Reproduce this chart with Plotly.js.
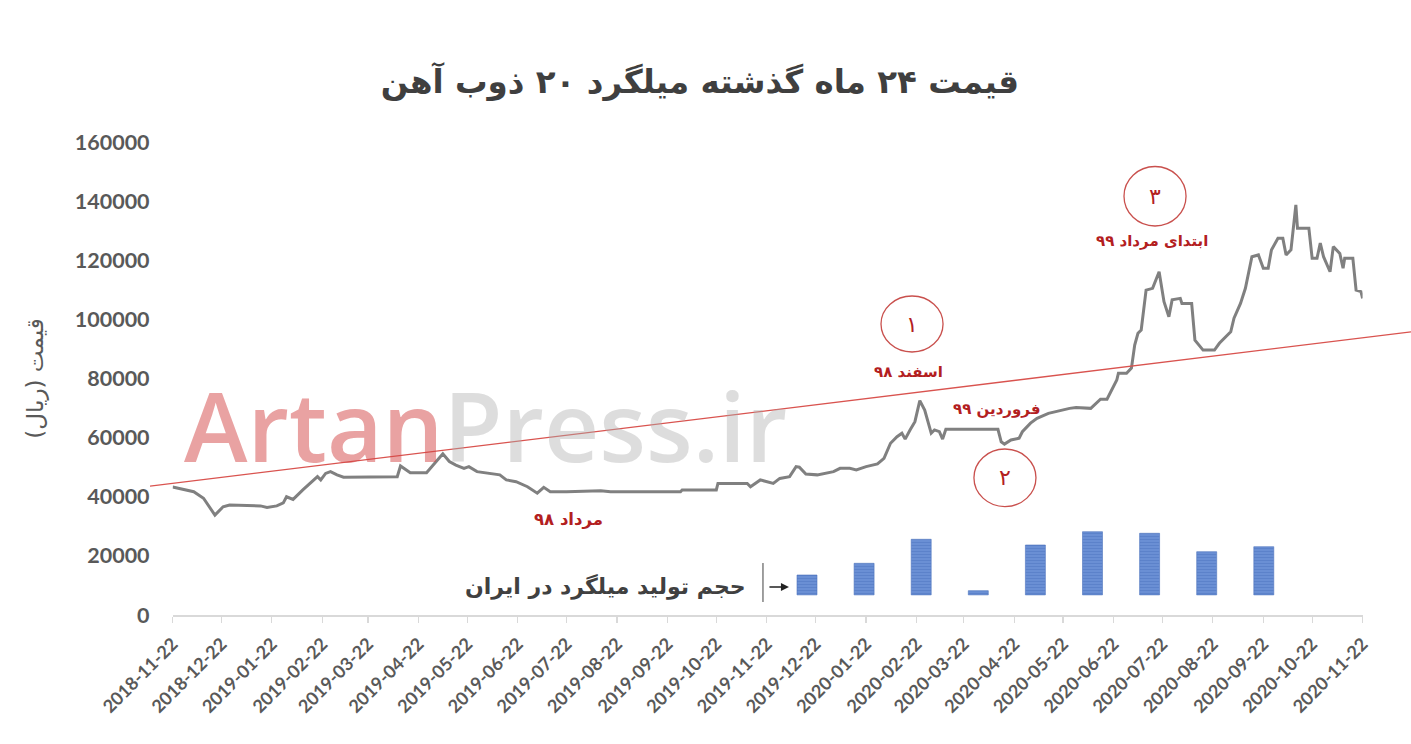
<!DOCTYPE html>
<html>
<head>
<meta charset="utf-8">
<script src="https://cdn.plot.ly/plotly-3.0.1.min.js"></script>
<style>html,body{margin:0;padding:0;background:#fff;}#chart{width:1411px;height:744px;}</style>
</head>
<body>
<div id="chart"></div>
<script>
// ---- Data ----
var priceDates = [
'2018-11-22','2018-12-05','2018-12-11','2018-12-18','2018-12-23','2018-12-27','2019-01-15','2019-01-19','2019-01-25','2019-01-29',
'2019-01-31','2019-02-04','2019-02-10','2019-02-16','2019-02-19','2019-02-21','2019-02-24','2019-02-27','2019-03-03','2019-03-07',
'2019-04-09','2019-04-11','2019-04-15','2019-04-17','2019-04-27','2019-05-01','2019-05-07','2019-05-11','2019-05-15','2019-05-20',
'2019-05-23','2019-05-28','2019-06-11','2019-06-15','2019-06-21','2019-06-28','2019-07-04','2019-07-08','2019-07-12','2019-07-22',
'2019-08-12','2019-08-18','2019-09-30','2019-10-01','2019-10-22','2019-10-23','2019-11-10','2019-11-12','2019-11-18','2019-11-26',
'2019-11-30','2019-12-06','2019-12-10','2019-12-12','2019-12-16','2019-12-23','2020-01-02','2020-01-06','2020-01-12','2020-01-16',
'2020-01-22','2020-01-29','2020-02-02','2020-02-06','2020-02-10','2020-02-13','2020-02-15','2020-02-18','2020-02-21','2020-02-24',
'2020-02-27','2020-03-02','2020-03-04','2020-03-07','2020-03-09','2020-03-11','2020-04-12','2020-04-14','2020-04-16','2020-04-20',
'2020-04-25','2020-04-27','2020-05-02','2020-05-06','2020-05-13','2020-05-26','2020-05-30','2020-06-08','2020-06-14','2020-06-18',
'2020-06-21','2020-06-24','2020-06-25','2020-06-30','2020-07-03','2020-07-05','2020-07-07','2020-07-09','2020-07-12','2020-07-16',
'2020-07-20','2020-07-23','2020-07-26','2020-07-28','2020-08-02','2020-08-03','2020-08-09','2020-08-11','2020-08-16','2020-08-23',
'2020-08-26','2020-09-02','2020-09-04','2020-09-08','2020-09-11','2020-09-15','2020-09-19','2020-09-22','2020-09-25','2020-09-27',
'2020-10-01','2020-10-04','2020-10-06','2020-10-09','2020-10-12','2020-10-13','2020-10-20','2020-10-22','2020-10-25','2020-10-27',
'2020-10-29','2020-11-02','2020-11-04','2020-11-08','2020-11-10','2020-11-11','2020-11-16','2020-11-18','2020-11-21','2020-11-22'
];
var priceValues = [
43300,41700,39500,33800,36600,37200,36900,36400,36900,37900,
40000,39100,42300,45100,46800,45700,47900,48500,47400,46600,
46800,50400,49000,48100,48100,50700,54500,51900,50700,49600,
50200,48500,47400,45700,45100,43400,41200,43200,41700,41700,
42000,41700,41700,42300,42300,44500,44500,43400,45700,44500,
46200,46800,50200,50000,47700,47400,48500,49600,49600,49100,
50200,51100,53000,58100,60300,61500,59500,62600,65400,72500,
69300,61500,62600,62000,59500,62800,62800,58600,57800,59200,
59800,62000,64900,66500,68200,69900,70200,69900,73000,73000,
76100,79500,81800,81800,83500,91300,95300,96400,109900,110500,
116100,106000,100900,106600,107100,105400,105400,93000,89600,89600,
91900,95800,100400,105400,110500,121200,121800,117300,117300,123500,
127400,127400,121800,123500,138700,130800,130800,120700,120700,125800,
121200,116100,124600,122300,117300,120700,120700,109900,109400,107100
];

// linear trend line (red), drawn on a wider hidden date axis
var trendDates = ['2018-11-08 03:00', '2020-12-21 17:00'];
var trendValues = [43600, 95750];

// production volume bars (hidden category axis)
var barMonths = ['دی ۹۸','بهمن ۹۸','اسفند ۹۸','فروردین ۹۹','اردیبهشت ۹۹','خرداد ۹۹','تیر ۹۹','مرداد ۹۹','شهریور ۹۹'];
var barHeights = [6730, 10690, 18810, 1420, 16880, 21380, 20840, 14610, 16300];
var barBase = 6800;

var xTickVals = [
'2018-11-22','2018-12-22','2019-01-22','2019-02-22','2019-03-22','2019-04-22','2019-05-22','2019-06-22','2019-07-22',
'2019-08-22','2019-09-22','2019-10-22','2019-11-22','2019-12-22','2020-01-22','2020-02-22','2020-03-22','2020-04-22',
'2020-05-22','2020-06-22','2020-07-22','2020-08-22','2020-09-22','2020-10-22','2020-11-22'
];
var yTickVals = [0,20000,40000,60000,80000,100000,120000,140000,160000];

var titleText = 'قیمت ۲۴ ماه گذشته میلگرد ۲۰ ذوب آهن';
var yTitleText = 'قیمت (ریال)';
var fa = '"DejaVu Sans", sans-serif';
var dark = '#b3201f';
var circ = '#c9504d';

var traces = [
  {
    type: 'bar', x: barMonths, y: barHeights, base: barBase,
    xaxis: 'x3', yaxis: 'y', width: 0.35,
    marker: {color: '#6a8fd4', line: {color: '#4d74bd', width: 0.6},
             pattern: {shape: '-', bgcolor: '#6a8fd4', fgcolor: '#5a80c8', size: 3, solidity: 0.3, fillmode: 'replace'}},
    hoverinfo: 'skip', showlegend: false
  },
  {
    type: 'scatter', mode: 'lines', x: priceDates, y: priceValues,
    xaxis: 'x', yaxis: 'y',
    line: {color: '#808080', width: 3}, showlegend: false
  },
  {
    type: 'scatter', mode: 'lines', x: trendDates, y: trendValues,
    xaxis: 'x2', yaxis: 'y',
    line: {color: '#d9534f', width: 1.3}, showlegend: false, hoverinfo: 'skip'
  }
];

function ann(text, x, y, size, color, bold, extra) {
  var a = {text: text, x: x, y: y, xref: 'paper', yref: 'paper', showarrow: false,
           xanchor: 'center', yanchor: 'middle',
           font: {family: fa, size: size, color: color, weight: bold ? 700 : 400}};
  if (extra) for (var k in extra) a[k] = extra[k];
  return a;
}

var layout = {
  width: 1411, height: 744,
  margin: {l: 150, r: 0, t: 142, b: 129, pad: 0},
  paper_bgcolor: '#ffffff', plot_bgcolor: 'rgba(0,0,0,0)',
  showlegend: false,
  title: {text: titleText, x: 0.496, xref: 'container', xanchor: 'center',
          y: 0.89, yref: 'container', yanchor: 'middle',
          font: {family: fa, size: 32.5, color: '#3f3f3f', weight: 700}},
  xaxis: {
    type: 'date', domain: [0.01792, 0.96162], anchor: 'y',
    range: ['2018-11-22', '2020-11-22'],
    tickvals: xTickVals, tickformat: '%Y-%m-%d', tickangle: -45,
    ticks: 'outside', ticklen: 6, tickcolor: '#d9d9d9', tickwidth: 1.2,
    showline: true, linecolor: '#d9d9d9', linewidth: 1.5,
    showgrid: false, zeroline: false, automargin: false,
    ticklabelstandoff: 4,
    tickfont: {family: 'Lato, sans-serif', size: 18, color: '#595959', weight: 700}
  },
  xaxis2: {type: 'date', domain: [0, 1], anchor: 'y', range: trendDates, visible: false, fixedrange: true},
  xaxis3: {type: 'category', domain: [0, 1], anchor: 'y', range: [-11.506, 10.578], visible: false, fixedrange: true},
  yaxis: {
    range: [0, 160000], tickvals: yTickVals, tickformat: 'd',
    showline: false, showgrid: false, zeroline: false, ticks: '', automargin: false,
    ticklabelstandoff: 22,
    tickfont: {family: 'Lato, sans-serif', size: 21.5, color: '#595959', weight: 700},
    title: {text: yTitleText, standoff: 24, font: {family: fa, size: 23, color: '#595959'}}
  },
  shapes: [
    {type: 'circle', xref: 'paper', yref: 'paper', x0: 0.5797, x1: 0.6289, y0: 0.5560, y1: 0.6744, line: {color: circ, width: 1.3}},
    {type: 'circle', xref: 'paper', yref: 'paper', x0: 0.6534, x1: 0.7026, y0: 0.2293, y1: 0.3510, line: {color: circ, width: 1.3}},
    {type: 'circle', xref: 'paper', yref: 'paper', x0: 0.7724, x1: 0.8216, y0: 0.8224, y1: 0.9482, line: {color: circ, width: 1.3}},
    {type: 'line', xref: 'paper', yref: 'paper', x0: 0.4861, x1: 0.4861, y0: 0.0275, y1: 0.1099, line: {color: '#404040', width: 1}}
  ],
  annotations: [
    {text: '<span style="color:rgba(212,70,70,0.5)">Artan</span><span style="color:rgba(175,175,175,0.42)">Press.ir</span>',
     x: 0.2657, y: 0.4017, xref: 'paper', yref: 'paper', showarrow: false, xanchor: 'center', yanchor: 'middle',
     font: {family: '"Open Sans", sans-serif', size: 96, weight: 600}},
    ann('۱', 0.6043, 0.6152, 22, dark, false),
    ann('اسفند ۹۸', 0.6019, 0.5137, 15, dark, true),
    ann('فروردین ۹۹', 0.6716, 0.4355, 15, dark, true),
    ann('۲', 0.6780, 0.2907, 22, dark, false),
    ann('۳', 0.7970, 0.8853, 22, dark, false),
    ann('ابتدای مرداد ۹۹', 0.7946, 0.7907, 15, dark, true),
    ann('مرداد ۹۸', 0.3315, 0.2008, 16.5, dark, true),
    ann('حجم تولید میلگرد در ایران', 0.4742, 0.0592, 22, '#404040', true, {xanchor: 'right'}),
    {text: '', x: 0.5067, y: 0.0592, xref: 'paper', yref: 'paper', showarrow: true,
     ax: -21, ay: 0, arrowhead: 2, arrowsize: 1, arrowwidth: 1.6, arrowcolor: '#222222', standoff: 0}
  ]
};

Plotly.newPlot('chart', traces, layout, {displayModeBar: false, staticPlot: true});
</script>
</body>
</html>
